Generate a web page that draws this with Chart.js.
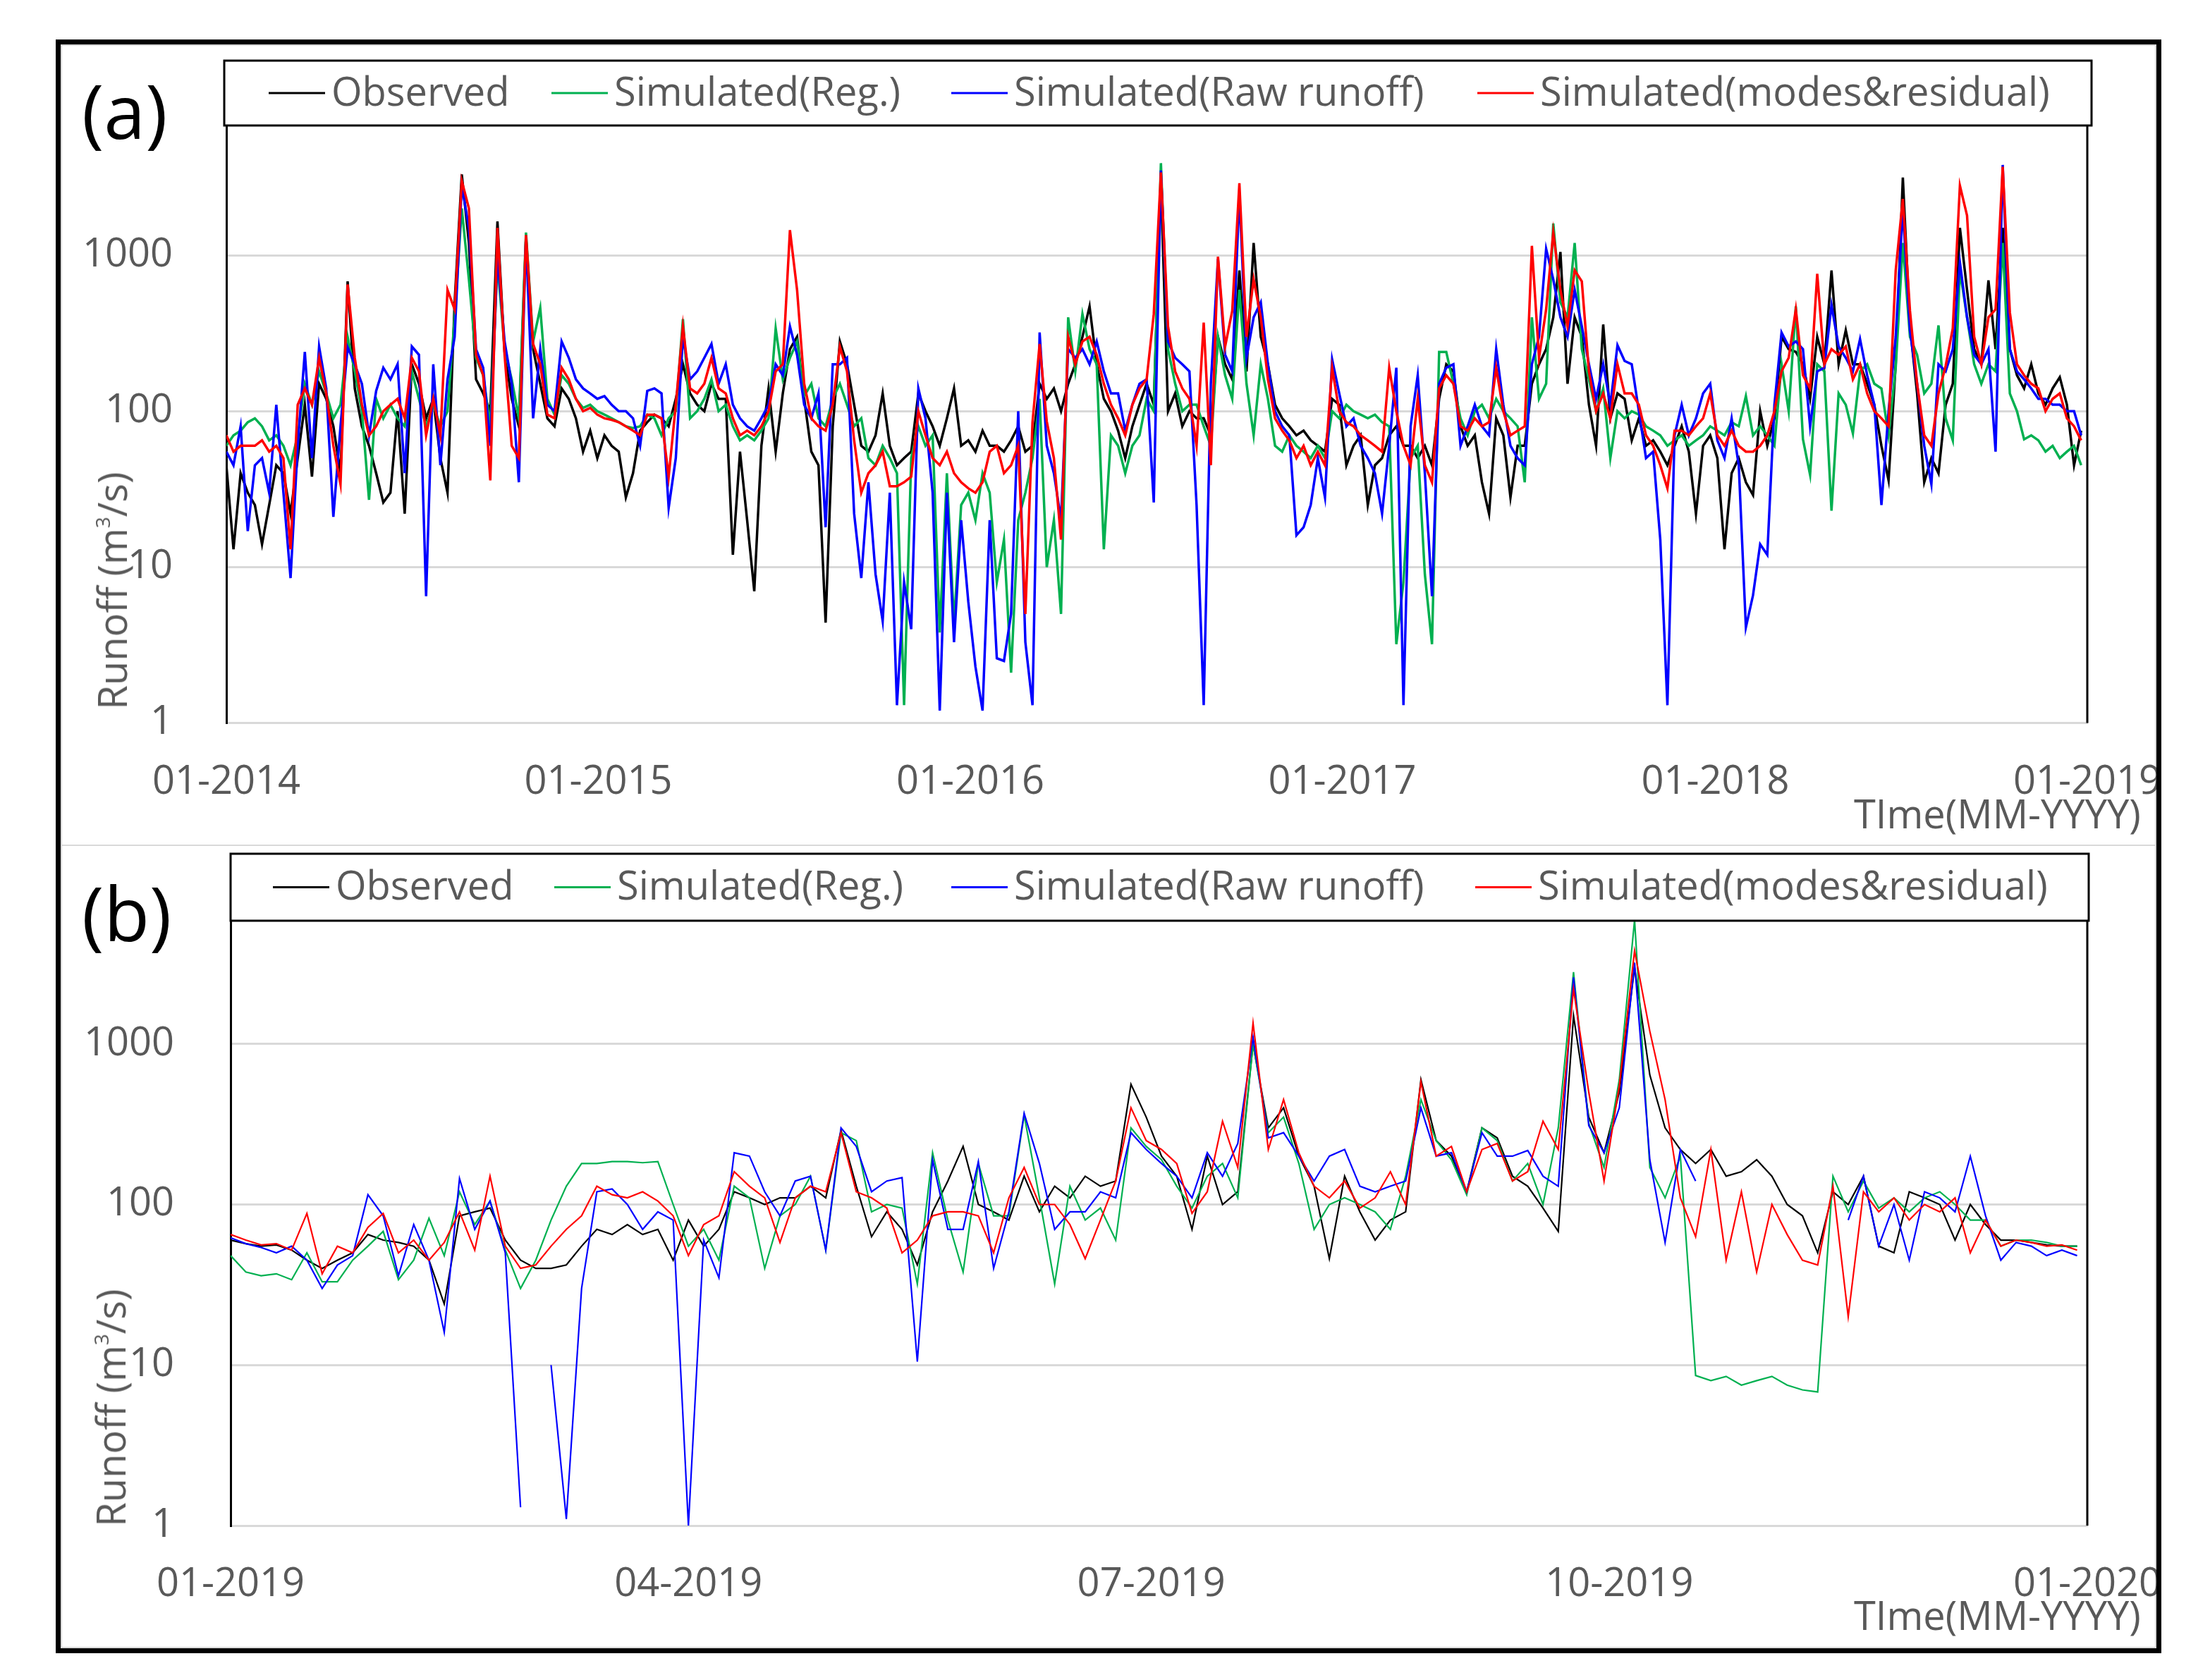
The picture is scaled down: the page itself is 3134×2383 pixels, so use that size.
<!DOCTYPE html>
<html lang="en">
<head>
<meta charset="UTF-8">
<title>Runoff: observed and simulated</title>
<script src="https://cdn.jsdelivr.net/npm/chart.js"></script>
<style>
    body {
        margin: 0;
        width: 3134px;
        height: 2383px;
        background: #fff;
        font-family: 'Open Sans', sans-serif;
        position: relative;
        overflow: hidden;
    }
    .frame {
        position: absolute;
        left: 79px;
        top: 56px;
        width: 2986px;
        height: 2289px;
        border: 7px solid #000;
        box-sizing: border-box;
        overflow: hidden;
    }
    .panel {
        position: absolute;
        left: 0;
        width: 2972px;
        border: 2px solid #d9d9d9;
        box-sizing: border-box;
    }
    canvas { position: absolute; left: -86px; }
    .tag { position: absolute; left: 30px; font-size: 106px; line-height: 1; color: #000; }
    .xtitle { position: absolute; left: 2543px; font-size: 56px; line-height: 1; color: #595959; white-space: nowrap; }
    .ytitle {
        position: absolute;
        font-size: 56px;
        line-height: 1;
        color: #595959;
        white-space: nowrap;
        transform: translate(-50%, -50%) rotate(-90deg);
    }
    .ytitle sup { font-size: 28px; line-height: 0; vertical-align: 24px; }
</style>
</head>
<body>
<div class="frame">
    <div class="panel" style="top:0; height:1137px;"></div>
    <div class="panel" style="top:1135px; height:1140px;"></div>
    <canvas id="chartA" width="3134" height="1199" style="top:-63px;"></canvas>
    <canvas id="chartB" width="3134" height="1146" style="top:1136px;"></canvas>
    <div class="tag" style="top:40px;">(a)</div>
    <div class="tag" style="top:1178px;">(b)</div>
    <div class="xtitle" style="top:1062px;">TIme(MM-YYYY)</div>
    <div class="xtitle" style="top:2199px;">TIme(MM-YYYY)</div>
    <div class="ytitle" style="left:72px; top:775px;">Runoff (m<sup>3</sup>/s)</div>
    <div class="ytitle" style="left:70px; top:1934px;">Runoff (m<sup>3</sup>/s)</div>
</div>

<script>
    // Series names and colours (same for both panels)
    const seriesLabels = ['Observed', 'Simulated(Reg.)', 'Simulated(Raw runoff)', 'Simulated(modes&residual)'];
    const seriesColors = ['#000000', '#00b050', '#0000ff', '#ff0000'];

    // y axis (log) ticks
    const yTickValues = [1, 10, 100, 1000, 10000];
    const yTickLabels = ['1', '10', '100', '1000', ''];

    // (a) 2014-2018, one reading every 7 days
    const stepA = 7;
    const ticksA = [0, 365, 730, 1095, 1461, 1826];
    const tickLabelsA = ['01-2014', '01-2015', '01-2016', '01-2017', '01-2018', '01-2019'];

    const obsA = [
        45, 13, 40, 30, 25, 14, 25, 45, 40, 22,
        50, 110, 38, 150, 120, 80, 40, 680, 140, 80,
        60, 40, 26, 30, 100, 22, 200, 150, 90, 120,
        50, 30, 500, 3300, 1200, 160, 130, 100, 1650, 240,
        120, 80, 1300, 250, 150, 90, 80, 140, 120, 90,
        55, 75, 50, 70, 60, 55, 28, 40, 75, 85,
        95, 90, 80, 120, 200, 130, 110, 100, 150, 120,
        120, 12, 55, 20, 7, 60, 140, 55, 130, 250,
        300, 120, 55, 45, 4.4, 80, 280, 200, 110, 60,
        55, 70, 130, 60, 45, 50, 55, 130, 100, 80,
        60, 90, 140, 60, 65, 55, 75, 60, 60, 55,
        65, 80, 55, 60, 150, 120, 140, 100, 150, 200,
        300, 470, 200, 120, 100, 75, 50, 80, 110, 150,
        110, 3000, 100, 130, 80, 100, 90, 90, 70, 300,
        200, 160, 800, 180, 1200, 300, 200, 110, 90, 80,
        70, 75, 65, 60, 55, 120, 110, 45, 60, 70,
        25, 45, 50, 70, 80, 60, 60, 50, 60, 45,
        120, 200, 180, 80, 60, 70, 35, 22, 90, 70,
        28, 60, 60, 150, 200, 250, 400, 1050, 150, 400,
        300, 110, 60, 360, 90, 130, 120, 65, 90, 60,
        65, 55, 45, 60, 80, 55, 22, 60, 70, 50,
        13, 40, 50, 35, 29, 100, 60, 90, 300, 250,
        240, 200, 120, 300, 200, 800, 200, 330, 200, 200,
        150, 110, 60, 36, 200, 3150, 350, 130, 35, 50,
        40, 110, 150, 1500, 600, 250, 200, 690, 250, 1500,
        250, 170, 140, 200, 130, 110, 140, 165, 110, 45,
        75
    ];
    const regA = [
        60, 70, 75, 85, 90, 80, 65, 70, 60, 45,
        70, 150, 110, 180, 130, 90, 110, 300, 180, 100,
        27, 120, 90, 110, 90, 80, 180, 120, 80, 110,
        80, 100, 400, 2000, 700, 220, 170, 80, 900, 250,
        160, 90, 1400, 280, 460, 120, 95, 170, 150, 120,
        105, 110, 100, 95, 90, 85, 80, 78, 80, 95,
        90, 70, 90, 100, 390, 90, 100, 120, 160, 100,
        110, 80, 65, 70, 65, 75, 90, 340, 160, 220,
        280, 125, 150, 90, 80, 120, 150, 110, 80, 90,
        50, 45, 60, 50, 40, 1.3, 50, 80, 60, 70,
        3.8, 40, 4.3, 25, 30, 20, 40, 30, 8, 15,
        2.1, 20, 30, 50, 120, 10, 20, 5, 400, 180,
        420, 250, 200, 13, 70, 60, 40, 60, 70, 120,
        100, 3900, 250, 150, 100, 110, 110, 80, 60, 300,
        170, 120, 600, 150, 70, 200, 120, 60, 55, 70,
        60, 55, 50, 60, 50, 100, 90, 110, 100, 95,
        90, 95, 85, 80, 3.2, 8, 50, 60, 9, 3.2,
        240, 240, 150, 90, 70, 100, 110, 90, 120, 100,
        90, 80, 35, 400, 120, 150, 1600, 500, 400, 1200,
        250, 160, 100, 140, 50, 100, 90, 100, 95, 80,
        75, 70, 60, 65, 70, 60, 65, 70, 80, 75,
        70, 85, 80, 125, 70, 80, 70, 60, 200, 100,
        470, 66, 39, 200, 180, 23, 130, 110, 72, 180,
        200, 150, 140, 70, 190, 1200, 300, 230, 130, 150,
        355, 90, 65, 800, 400, 200, 150, 200, 180, 1200,
        130, 100, 66, 70, 65, 55, 60, 50, 55, 60,
        45
    ];
    const rawA = [
        55, 45, 80, 17, 45, 50, 30, 110, 30, 8.5,
        60, 240, 50, 260, 140, 21, 80, 257, 200, 150,
        70, 135, 190, 160, 200, 40, 260, 230, 6.5, 200,
        45, 160, 300, 2800, 1500, 250, 190, 60, 1000, 280,
        150, 35, 1300, 90, 250, 110, 100, 280, 220, 160,
        140, 130, 120, 125, 110, 100, 100, 90, 60, 135,
        140, 130, 24, 50, 300, 160, 180, 220, 270, 150,
        200, 110, 90, 80, 75, 90, 110, 200, 170, 350,
        230, 110, 90, 130, 18, 200, 200, 220, 22, 8.5,
        35, 9, 4.5, 30, 1.3, 8, 4, 140, 90, 30,
        1.2, 30, 3.3, 20, 6, 2.3, 1.2, 20, 2.6, 2.5,
        5, 100, 3.3, 1.3, 320, 60, 40, 20, 250, 220,
        250, 200, 280, 180, 130, 130, 75, 110, 150, 160,
        26, 3500, 280, 220, 200, 180, 25, 1.3, 150, 950,
        230, 180, 2500, 220, 400, 500, 200, 100, 80, 70,
        16, 18, 25, 50, 28, 215, 130, 80, 90, 60,
        50, 40, 22, 60, 190, 1.3, 80, 170, 40, 6.5,
        150, 190, 200, 60, 80, 110, 80, 70, 250, 110,
        60, 50, 45, 200, 300, 1100, 700, 400, 300, 600,
        350, 200, 120, 200, 110, 265, 210, 200, 100, 50,
        55, 15, 1.3, 70, 110, 70, 90, 130, 150, 65,
        50, 90, 45, 4.1, 6.6, 14, 12, 110, 320, 260,
        280, 250, 80, 180, 190, 480, 260, 220, 180, 290,
        170, 110, 25, 100, 300, 2000, 330, 150, 60, 34,
        200, 180, 250, 900, 400, 230, 200, 250, 55, 3800,
        250, 180, 160, 140, 120, 120, 110, 110, 100, 100,
        70
    ];
    const mrA = [
        70, 55, 60, 60, 60, 65, 55, 60, 50, 13,
        110, 140, 110, 220, 130, 60, 34, 650, 220, 110,
        70, 80, 100, 110, 120, 90, 220, 180, 70, 120,
        70, 600, 450, 3000, 2000, 230, 170, 36, 1500, 230,
        60, 50, 1350, 270, 200, 95, 90, 190, 160, 120,
        100, 105, 95, 90, 88, 85, 80, 75, 70, 95,
        95, 90, 38, 110, 350, 140, 130, 150, 220, 140,
        130, 90, 70, 75, 70, 80, 100, 180, 200, 1450,
        600, 150, 90, 80, 75, 110, 260, 180, 65, 30,
        40, 45, 55, 33, 33, 35, 38, 100, 70, 50,
        45, 55, 40, 35, 32, 30, 35, 55, 60, 40,
        45, 60, 5, 85, 270, 86, 50, 15, 300, 200,
        280, 300, 230, 150, 110, 90, 70, 110, 140, 160,
        420, 3400, 350, 180, 140, 120, 60, 370, 45, 980,
        260, 440, 2900, 300, 700, 400, 160, 90, 75, 65,
        50, 60, 45, 55, 45, 190, 100, 85, 80, 70,
        65, 60, 55, 190, 100, 60, 45, 120, 45, 35,
        140, 170, 150, 80, 75, 90, 80, 85, 190, 100,
        70, 75, 80, 1150, 220, 450, 1400, 600, 350, 800,
        680, 180, 100, 130, 90, 200, 130, 130, 110, 70,
        60, 45, 32, 75, 75, 70, 80, 90, 130, 70,
        60, 75, 60, 55, 55, 60, 70, 100, 180, 220,
        450, 170, 140, 760, 200, 250, 230, 260, 160, 200,
        130, 100, 90, 80, 800, 2300, 440, 150, 70, 60,
        130, 195, 340, 2800, 1800, 300, 200, 400, 450, 3700,
        430, 200, 170, 150, 140, 100, 120, 130, 90, 80,
        65
    ];

    // (b) 2019, one reading every 3 days (null = no value)
    const stepB = 3;
    const ticksB = [0, 90, 181, 273, 365];
    const tickLabelsB = ['01-2019', '04-2019', '07-2019', '10-2019', '01-2020'];

    const obsB = [
        60, 57, 55, 56, 52, 45, 40, 45, 50, 65,
        60, 58, 55, 45, 24, 85, 90, 95, 60, 45,
        40, 40, 42, 55, 70, 65, 75, 65, 70, 45,
        80, 55, 70, 120, 110, 100, 110, 110, 130, 110,
        290, 130, 63, 90, 70, 42, 90, 140, 230, 100,
        90, 80, 150, 90, 130, 110, 150, 130, 140, 560,
        350, 200, 150, 70, 200, 100, 120, 1000, 300, 400,
        200, 130, 46, 150, 90, 60, 80, 90, 600, 250,
        200, 120, 300, 260, 150, 130, 95, 68, 1500, 350,
        210, 500, 3000, 640, 300, 220, 180, 220, 150, 160,
        190, 150, 100, 85, 50, 120, 100, 150, 55, 50,
        120, 110, 100, 60, 100, 75, 60, 60, 58, 56,
        55, 55
    ];
    const regB = [
        48, 38, 36, 37, 34, 50, 33, 33, 45, 55,
        68, 34, 45, 82, 48, 120, 75, 105, 52, 30,
        45, 80, 130, 180, 180, 185, 185, 182, 185, 100,
        55, 70, 45, 130, 110, 40, 85, 100, 150, 52,
        280, 250, 90, 100, 95, 32, 210, 80, 38, 180,
        85, 85, 360, 110, 32, 130, 80, 95, 60, 300,
        230, 190, 130, 95, 150, 180, 110, 1000, 280, 350,
        180, 70, 100, 110, 100, 90, 70, 150, 450, 250,
        190, 115, 300, 250, 140, 180, 100, 300, 2800, 320,
        170, 600, 5900, 170, 110, 200, 8.6, 8, 8.5, 7.5,
        8, 8.5, 7.5, 7, 6.8, 150, 90, 140, 95, 110,
        90, 110, 120, 100, 80, 80, 55, 60, 60, 58,
        55, 55
    ];
    const rawB = [
        62, 57, 54, 50, 55, 45, 30, 42, 48, 115,
        85, 36, 75, 45, 16, 145, 70, 105, 50, 1.3,
        null, 10, 1.1, 30, 120, 125, 100, 70, 90, 80,
        1.0, 60, 35, 210, 200, 120, 85, 140, 150, 52,
        300, 230, 120, 140, 147, 10.5, 190, 70, 70, 185,
        40, 90, 370, 180, 70, 90, 90, 120, 110, 280,
        220, 180, 150, 110, 210, 150, 240, 1100, 260, 280,
        200, 140, 200, 220, 130, 120, 130, 140, 400, 200,
        210, 120, 280, 200, 200, 217, 150, 130, 2600, 310,
        210, 400, 3200, 190, 58, 220, 140, null, null, null,
        null, null, null, null, null, null, 80, 150, 55, 100,
        45, 120, 110, 90, 200, 85, 45, 58, 55, 48,
        52, 48
    ];
    const mrB = [
        65, 60, 56, 57, 52, 88, 37, 55, 50, 72,
        88, 50, 60, 45, 58, 90, 52, 150, 55, 40,
        42, 55, 70, 85, 130, 115, 110, 120, 105, 85,
        48, 75, 85, 160, 130, 110, 58, 110, 130, 120,
        280, 120, 110, 95, 50, 60, 85, 90, 90, 85,
        50, 110, 170, 100, 100, 75, 46, 80, 140, 400,
        250, 220, 180, 88, 120, 330, 170, 1350, 220, 450,
        210, 130, 110, 140, 95, 110, 160, 100, 580, 200,
        230, 120, 220, 240, 140, 160, 330, 220, 2200, 500,
        140, 550, 3800, 1200, 450, 110, 63, 220, 45, 120,
        38, 100, 65, 45, 42, 130, 20, 120, 90, 110,
        80, 100, 90, 110, 50, 80, 55, 60, 58, 55,
        56, 52
    ];

    Chart.defaults.font.family = "'Open Sans', sans-serif";
    Chart.defaults.color = '#595959';

    // Boxed legend drawn over the top of the plot, like the original
    const legendBox = {
        id: 'legendBox',
        afterDraw(chart, args, opts) {
            const ctx = chart.ctx;
            const x = opts.left, y = opts.top, w = opts.width, h = opts.height;
            ctx.save();
            ctx.fillStyle = '#fff';
            ctx.fillRect(x, y, w, h);
            ctx.strokeStyle = '#000';
            ctx.lineWidth = 3;
            ctx.strokeRect(x, y, w, h);
            ctx.font = "56px 'Open Sans'";
            ctx.textBaseline = 'middle';
            chart.data.datasets.forEach((ds, i) => {
                const lx = opts.items[i];
                const ly = y + h / 2;
                ctx.strokeStyle = ds.borderColor;
                ctx.lineWidth = 3;
                ctx.beginPath();
                ctx.moveTo(lx, ly);
                ctx.lineTo(lx + 80, ly);
                ctx.stroke();
                ctx.fillStyle = '#595959';
                ctx.fillText(ds.label, lx + 89, ly + 2);
            });
            ctx.restore();
        }
    };

    // black line on the right side of the plot area
    const rightEdge = {
        id: 'rightEdge',
        afterDatasetsDraw(chart) {
            const { ctx, chartArea: a } = chart;
            ctx.save();
            ctx.strokeStyle = '#000';
            ctx.lineWidth = 3;
            ctx.beginPath();
            ctx.moveTo(a.right, a.top);
            ctx.lineTo(a.right, a.bottom);
            ctx.stroke();
            ctx.restore();
        }
    };

    const makeChart = (canvasId, p) => {
        const days = p.values[0].map((_, i) => i * p.step);
        return new Chart(document.getElementById(canvasId), {
            type: 'line',
            data: {
                datasets: p.values.map((vals, i) => ({
                    label: seriesLabels[i],
                    data: vals.map((v, j) => ({ x: days[j], y: v })),
                    borderColor: seriesColors[i],
                    backgroundColor: seriesColors[i],
                    borderWidth: p.lineWidth,
                    pointRadius: 0,
                    tension: 0,
                    fill: false,
                    order: 3 - i
                }))
            },
            options: {
                responsive: false,
                animation: false,
                events: [],
                layout: { padding: { left: 0, top: p.top, right: 174, bottom: p.bottom } },
                plugins: {
                    legend: { display: false },
                    tooltip: { enabled: false },
                    legendBox: p.legend
                },
                scales: {
                    x: {
                        type: 'linear',
                        min: 0,
                        max: p.xMax,
                        grid: { display: false, drawTicks: false },
                        border: { color: '#d9d9d9', width: 3 },
                        afterBuildTicks: (s) => { s.ticks = p.ticks.map(v => ({ value: v })); },
                        afterFit: (s) => { s.height = 120; },
                        ticks: {
                            autoSkip: false,
                            maxRotation: 0,
                            padding: p.xPad,
                            color: '#595959',
                            font: { size: 56 },
                            callback: (v) => { const k = p.ticks.indexOf(v); return k < 0 ? '' : p.tickLabels[k]; }
                        }
                    },
                    y: {
                        type: 'logarithmic',
                        min: 1,
                        max: 10000,
                        grid: { color: '#d9d9d9', lineWidth: 3, drawTicks: false },
                        border: { color: '#000', width: 3 },
                        afterBuildTicks: (s) => { s.ticks = yTickValues.map(v => ({ value: v })); },
                        afterFit: (s) => {
                            s.width = p.left;
                            // keep the chart area where the layout padding puts it
                            s.paddingTop = 0;
                            s.paddingBottom = 0;
                        },
                        ticks: {
                            padding: p.yPad,
                            color: '#595959',
                            font: { size: 56 },
                            callback: (v) => { const k = yTickValues.indexOf(v); return k < 0 ? '' : yTickLabels[k]; }
                        }
                    }
                }
            },
            plugins: [rightEdge, legendBox]
        });
    };

    makeChart('chartA', {
        values: [obsA, regA, rawA, mrA],
        step: stepA,
        xMax: 1826,
        ticks: ticksA,
        tickLabels: tickLabelsA,
        lineWidth: 3.5,
        left: 321,
        top: 141,
        bottom: 53.5,
        xPad: 51,
        yPad: 76,
        legend: { left: 318, top: 86, width: 2648, height: 92, items: [381, 782, 1349, 2095] }
    });

    makeChart('chartB', {
        values: [obsB, regB, rawB, mrB],
        step: stepB,
        xMax: 365,
        ticks: ticksB,
        tickLabels: tickLabelsB,
        lineWidth: 2.2,
        left: 327,
        top: 54,
        bottom: 61,
        xPad: 50,
        yPad: 80,
        legend: { left: 327, top: 12, width: 2635, height: 95, items: [387, 786, 1349, 2092] }
    });
</script>
</body>
</html>
